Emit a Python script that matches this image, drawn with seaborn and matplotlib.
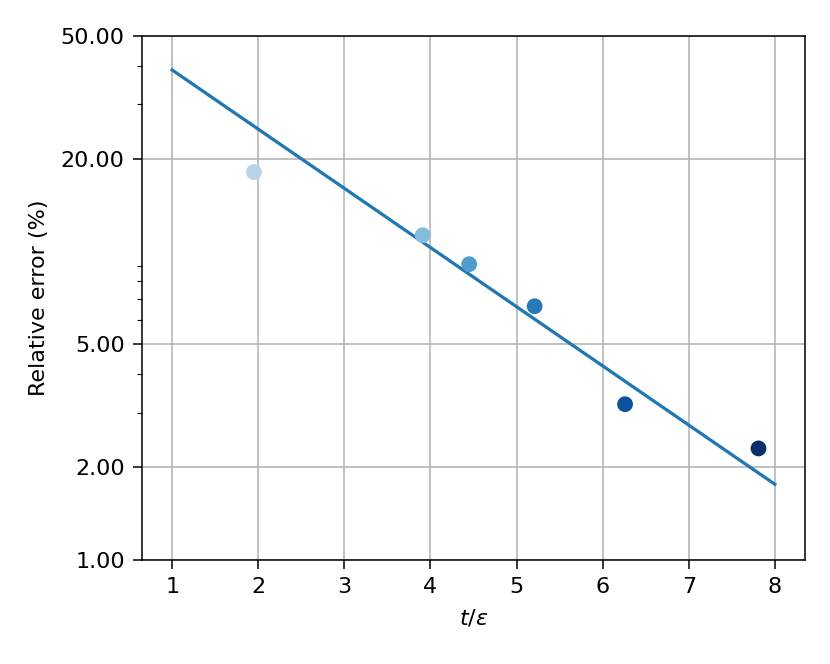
import matplotlib
matplotlib.use("Agg")
import matplotlib.pyplot as plt
import matplotlib.ticker as mticker
import numpy as np
import pandas as pd
import seaborn as sns

# Data
t_eps = [1.95, 3.91, 4.45, 5.21, 6.26, 7.81]
rel_error = [18.1, 11.3, 9.1, 6.65, 3.2, 2.3]
color_levels = [0.3, 0.44, 0.58, 0.72, 0.86, 1.0]

fit_x = [1, 8]
fit_y = [38.8, 1.76]

y_ticks = [1, 2, 5, 20, 50]
x_ticks = [1, 2, 3, 4, 5, 6, 7, 8]

plt.rcParams["font.size"] = 11.6
plt.rcParams["xtick.major.size"] = 4.5
plt.rcParams["ytick.major.size"] = 4.5
plt.rcParams["ytick.minor.size"] = 2.6
plt.rcParams["xtick.major.pad"] = 4.5
plt.rcParams["ytick.major.pad"] = 4.5

dpi = 138
fig = plt.figure(figsize=(830 / dpi, 664 / dpi), dpi=dpi)
ax = fig.add_axes([142 / 830, 1 - 560 / 664, (805 - 142) / 830, (560 - 36) / 664])

df_pts = pd.DataFrame({"t": t_eps, "err": rel_error, "lvl": color_levels})
df_fit = pd.DataFrame({"t": fit_x, "err": fit_y})

cmap = plt.get_cmap("Blues")
colors = [cmap(v) for v in color_levels]

sns.lineplot(data=df_fit, x="t", y="err", ax=ax, color="#1f77b4", linewidth=1.7, zorder=3)
sns.scatterplot(data=df_pts, x="t", y="err", ax=ax, hue="lvl", palette=colors,
                s=68, linewidth=0, legend=False, zorder=4)

ax.set_yscale("log")
ax.set_ylim(1, 50)
ax.set_xlim(0.65, 8.35)
ax.set_yticks(y_ticks)
ax.set_xticks(x_ticks)
ax.yaxis.set_major_formatter(mticker.FormatStrFormatter("%.2f"))
ax.yaxis.set_minor_formatter(mticker.NullFormatter())
ax.grid(True, which="major", color="#b0b0b0", linewidth=0.8)
ax.set_axisbelow(True)
ax.set_xlabel(r"$t/\varepsilon$", labelpad=5.5)
ax.set_ylabel("Relative error (%)", labelpad=6)

fig.savefig("out.png", dpi=dpi)
